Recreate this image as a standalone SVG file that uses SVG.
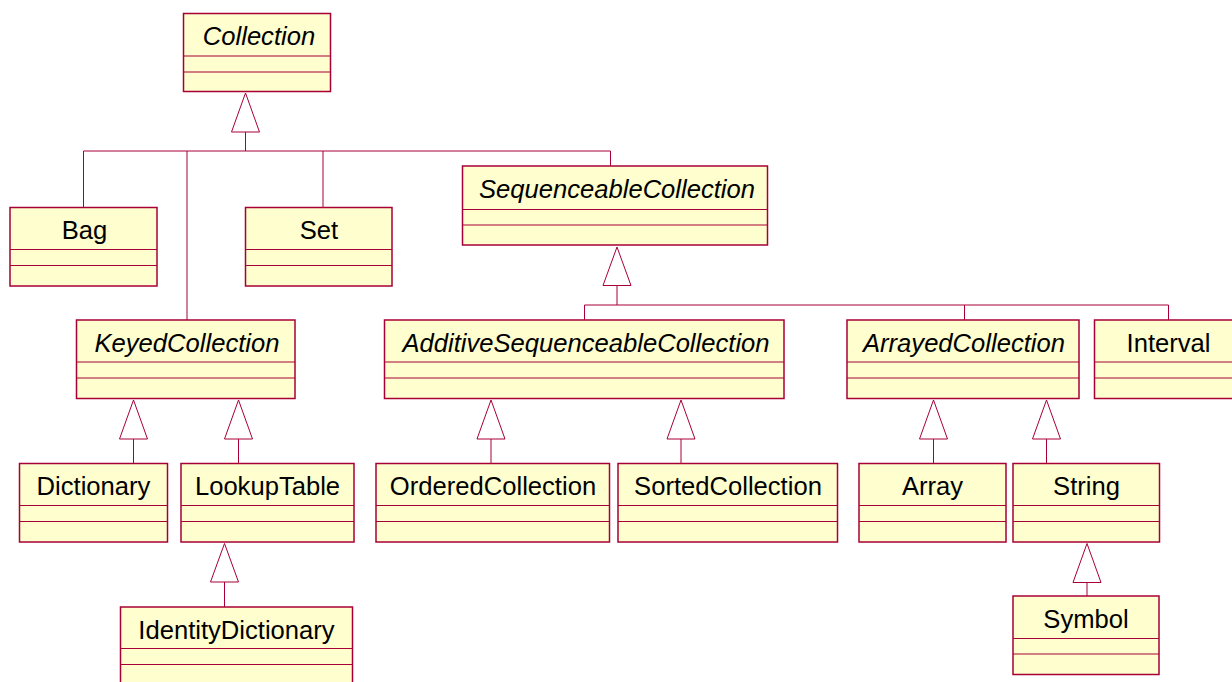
<svg xmlns="http://www.w3.org/2000/svg" width="1232" height="682" viewBox="0 0 1232 682">
  <style>
    .box { fill: #FEFECE; stroke: #A80036; stroke-width: 1.5; }
    .sep { stroke: #A80036; stroke-width: 1; }
    .name { font-family: "Liberation Sans", Arial, sans-serif; font-size: 25.6px; fill: #000; text-anchor: middle; }
    .abstract { font-style: italic; }
    .edge { fill: none; stroke: #A80036; stroke-width: 1; }
    .head { fill: #FFFFFF; stroke: #A80036; stroke-width: 1; }
  </style>
  <rect width="1232" height="682" fill="#FFFFFF"/>

  <!-- generalization connectors -->
  <g id="connectors">
    <!-- Collection children -->
    <path class="edge" d="M245.5 132V151M83.5 151H610.5M83.5 151V207.5M187 151V320M323 151V207.5M610.5 151V166"/>
    <polygon class="head" points="245.5,93 231.5,132 259.5,132"/>
    <!-- SequenceableCollection children -->
    <path class="edge" d="M617 285.5V305M584.5 305H1168.5M584.5 305V320M964.5 305V320M1168.5 305V320"/>
    <polygon class="head" points="617,247 603,285.5 631,285.5"/>
    <!-- KeyedCollection children -->
    <path class="edge" d="M133.5 439V463.5M238.5 439V463.5"/>
    <polygon class="head" points="133.5,400 119.5,439 147.5,439"/>
    <polygon class="head" points="238.5,400 224.5,439 252.5,439"/>
    <!-- LookupTable child -->
    <path class="edge" d="M224.5 582V607"/>
    <polygon class="head" points="224.5,543.5 210.5,582 238.5,582"/>
    <!-- AdditiveSequenceableCollection children -->
    <path class="edge" d="M491 439V463.5M681 439V463.5"/>
    <polygon class="head" points="491,400 477,439 505,439"/>
    <polygon class="head" points="681,400 667,439 695,439"/>
    <!-- ArrayedCollection children -->
    <path class="edge" d="M933.5 439V463.5M1046.5 439V463.5"/>
    <polygon class="head" points="933.5,400 919.5,439 947.5,439"/>
    <polygon class="head" points="1046.5,400 1032.5,439 1060.5,439"/>
    <!-- String child -->
    <path class="edge" d="M1087 582.5V596"/>
    <polygon class="head" points="1087,543.5 1073,582.5 1101,582.5"/>
  </g>

  <g id="Collection">
    <rect class="box" x="183.5" y="13.5" width="147" height="78"/>
    <path class="sep" d="M183.5 56H330.5M183.5 72H330.5"/>
    <text class="name abstract" x="259" y="45">Collection</text>
  </g>
  <g id="Bag">
    <rect class="box" x="10" y="207.5" width="147" height="78.5"/>
    <path class="sep" d="M10 249.5H157M10 265.5H157"/>
    <text class="name" x="84.5" y="239">Bag</text>
  </g>
  <g id="Set">
    <rect class="box" x="245.5" y="207.5" width="146.5" height="78.5"/>
    <path class="sep" d="M245.5 249.5H392M245.5 265.5H392"/>
    <text class="name" x="319" y="239">Set</text>
  </g>
  <g id="SequenceableCollection">
    <rect class="box" x="462.5" y="166" width="305" height="79"/>
    <path class="sep" d="M462.5 209.5H767.5M462.5 225H767.5"/>
    <text class="name abstract" x="617" y="197.5">SequenceableCollection</text>
  </g>
  <g id="KeyedCollection">
    <rect class="box" x="76.5" y="320" width="218.5" height="78.5"/>
    <path class="sep" d="M76.5 362H295M76.5 378H295"/>
    <text class="name abstract" x="187" y="351.5">KeyedCollection</text>
  </g>
  <g id="AdditiveSequenceableCollection">
    <rect class="box" x="384.5" y="320" width="399.5" height="78.5"/>
    <path class="sep" d="M384.5 362H784M384.5 378H784"/>
    <text class="name abstract" x="586" y="351.5">AdditiveSequenceableCollection</text>
  </g>
  <g id="ArrayedCollection">
    <rect class="box" x="847" y="320" width="232" height="78.5"/>
    <path class="sep" d="M847 362H1079M847 378H1079"/>
    <text class="name abstract" x="964" y="351.5">ArrayedCollection</text>
  </g>
  <g id="Interval">
    <rect class="box" x="1094.5" y="320" width="148" height="78.5"/>
    <path class="sep" d="M1094.5 362H1242.5M1094.5 378H1242.5"/>
    <text class="name" x="1168.5" y="351.5">Interval</text>
  </g>
  <g id="Dictionary">
    <rect class="box" x="19.5" y="463.5" width="148" height="78.5"/>
    <path class="sep" d="M19.5 505.5H167.5M19.5 521.5H167.5"/>
    <text class="name" x="93.5" y="495">Dictionary</text>
  </g>
  <g id="LookupTable">
    <rect class="box" x="181" y="463.5" width="173" height="78.5"/>
    <path class="sep" d="M181 505.5H354M181 521.5H354"/>
    <text class="name" x="267.5" y="495">LookupTable</text>
  </g>
  <g id="OrderedCollection">
    <rect class="box" x="376" y="463.5" width="233.5" height="78.5"/>
    <path class="sep" d="M376 505.5H609.5M376 521.5H609.5"/>
    <text class="name" x="493" y="495">OrderedCollection</text>
  </g>
  <g id="SortedCollection">
    <rect class="box" x="618" y="463.5" width="219.5" height="78.5"/>
    <path class="sep" d="M618 505.5H837.5M618 521.5H837.5"/>
    <text class="name" x="728" y="495">SortedCollection</text>
  </g>
  <g id="Array">
    <rect class="box" x="859" y="463.5" width="147" height="78.5"/>
    <path class="sep" d="M859 505.5H1006M859 521.5H1006"/>
    <text class="name" x="932.5" y="495">Array</text>
  </g>
  <g id="String">
    <rect class="box" x="1013" y="463.5" width="146.5" height="78.5"/>
    <path class="sep" d="M1013 505.5H1159.5M1013 521.5H1159.5"/>
    <text class="name" x="1086.5" y="495">String</text>
  </g>
  <g id="IdentityDictionary">
    <rect class="box" x="120.5" y="607" width="232" height="78"/>
    <path class="sep" d="M120.5 648.5H352.5M120.5 664.5H352.5"/>
    <text class="name" x="236.5" y="638.5">IdentityDictionary</text>
  </g>
  <g id="Symbol">
    <rect class="box" x="1013" y="596" width="146" height="78.5"/>
    <path class="sep" d="M1013 638.5H1159M1013 654H1159"/>
    <text class="name" x="1086" y="627.5">Symbol</text>
  </g>
</svg>
